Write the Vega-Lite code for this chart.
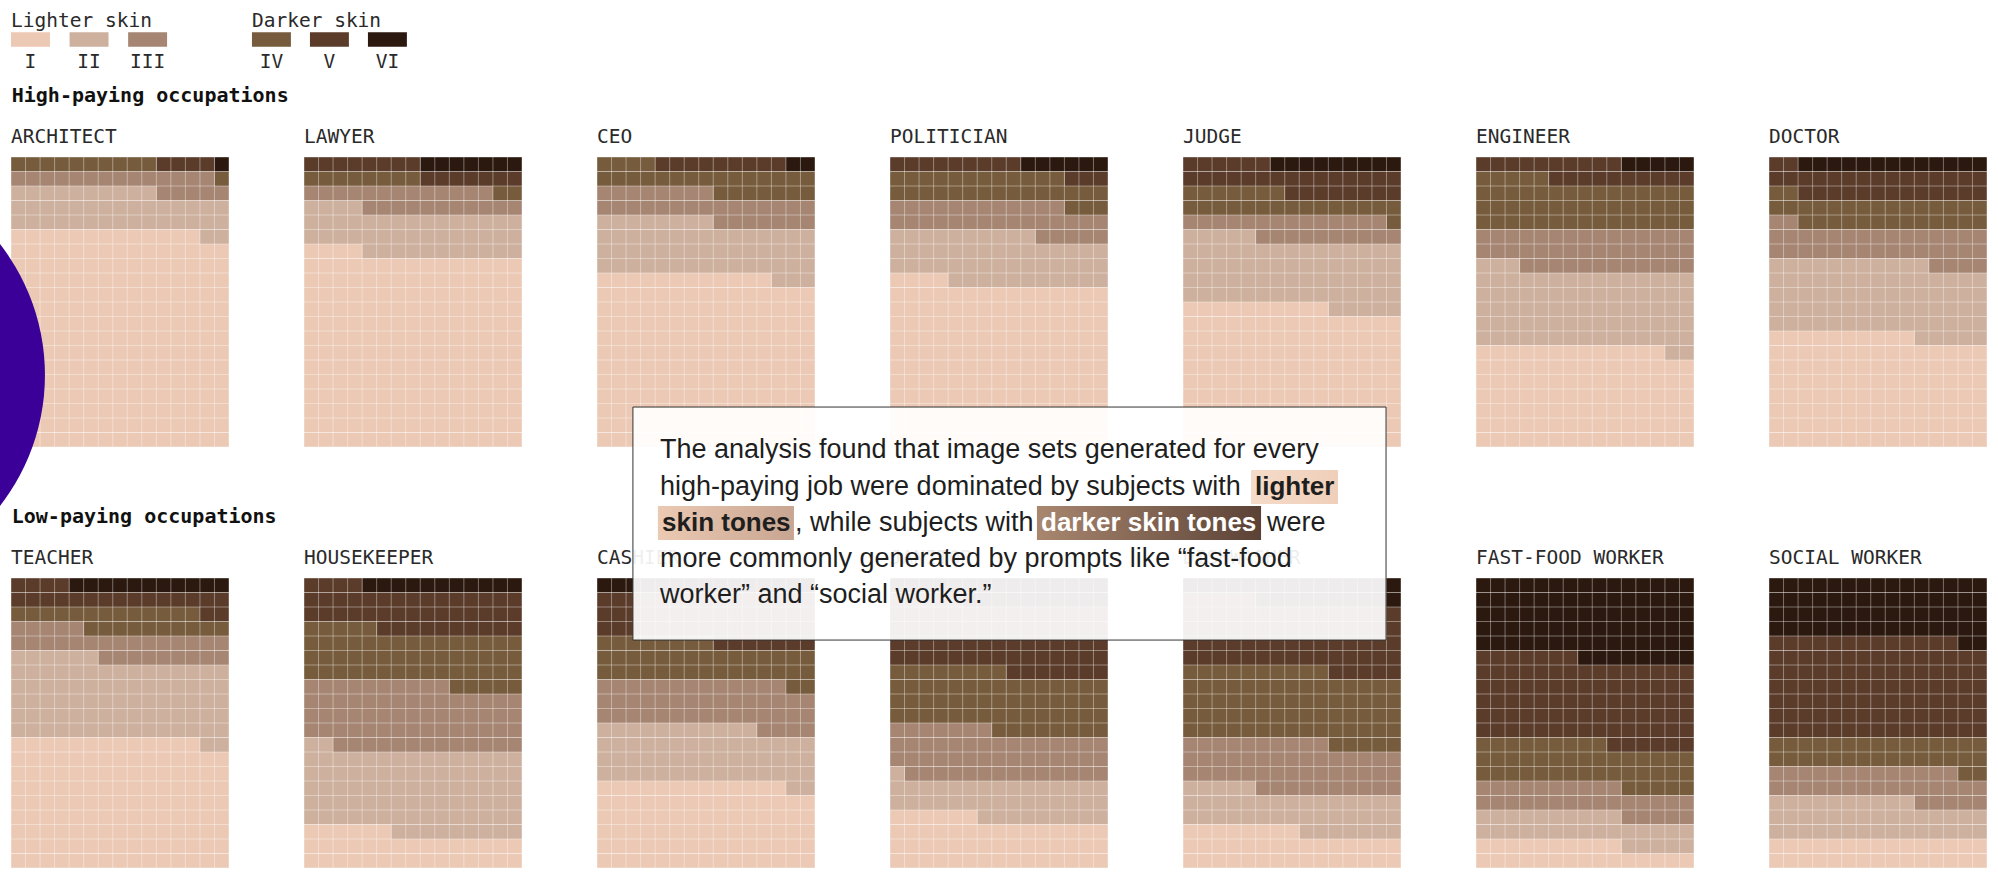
{
  "$schema": "https://vega.github.io/schema/vega-lite/v6.json",
  "autosize": {"type": "none"},
  "padding": {"left": 11, "top": 157, "right": 1987, "bottom": 715},
  "background": "white",
  "data": {"values": [
    {"occupation": "ARCHITECT", "type": "I", "count": 223},
    {"occupation": "ARCHITECT", "type": "II", "count": 42},
    {"occupation": "ARCHITECT", "type": "III", "count": 19},
    {"occupation": "ARCHITECT", "type": "IV", "count": 11},
    {"occupation": "ARCHITECT", "type": "V", "count": 4},
    {"occupation": "ARCHITECT", "type": "VI", "count": 1},
    {"occupation": "LAWYER", "type": "I", "count": 199},
    {"occupation": "LAWYER", "type": "II", "count": 45},
    {"occupation": "LAWYER", "type": "III", "count": 24},
    {"occupation": "LAWYER", "type": "IV", "count": 10},
    {"occupation": "LAWYER", "type": "V", "count": 15},
    {"occupation": "LAWYER", "type": "VI", "count": 7},
    {"occupation": "CEO", "type": "I", "count": 177},
    {"occupation": "CEO", "type": "II", "count": 56},
    {"occupation": "CEO", "type": "III", "count": 30},
    {"occupation": "CEO", "type": "IV", "count": 26},
    {"occupation": "CEO", "type": "V", "count": 9},
    {"occupation": "CEO", "type": "VI", "count": 2},
    {"occupation": "POLITICIAN", "type": "I", "count": 169},
    {"occupation": "POLITICIAN", "type": "II", "count": 51},
    {"occupation": "POLITICIAN", "type": "III", "count": 32},
    {"occupation": "POLITICIAN", "type": "IV", "count": 30},
    {"occupation": "POLITICIAN", "type": "V", "count": 12},
    {"occupation": "POLITICIAN", "type": "VI", "count": 6},
    {"occupation": "JUDGE", "type": "I", "count": 145},
    {"occupation": "JUDGE", "type": "II", "count": 70},
    {"occupation": "JUDGE", "type": "III", "count": 24},
    {"occupation": "JUDGE", "type": "IV", "count": 23},
    {"occupation": "JUDGE", "type": "V", "count": 29},
    {"occupation": "JUDGE", "type": "VI", "count": 9},
    {"occupation": "ENGINEER", "type": "I", "count": 103},
    {"occupation": "ENGINEER", "type": "II", "count": 80},
    {"occupation": "ENGINEER", "type": "III", "count": 42},
    {"occupation": "ENGINEER", "type": "IV", "count": 50},
    {"occupation": "ENGINEER", "type": "V", "count": 20},
    {"occupation": "ENGINEER", "type": "VI", "count": 5},
    {"occupation": "DOCTOR", "type": "I", "count": 115},
    {"occupation": "DOCTOR", "type": "II", "count": 76},
    {"occupation": "DOCTOR", "type": "III", "count": 36},
    {"occupation": "DOCTOR", "type": "IV", "count": 30},
    {"occupation": "DOCTOR", "type": "V", "count": 30},
    {"occupation": "DOCTOR", "type": "VI", "count": 13},
    {"occupation": "TEACHER", "type": "I", "count": 133},
    {"occupation": "TEACHER", "type": "II", "count": 83},
    {"occupation": "TEACHER", "type": "III", "count": 29},
    {"occupation": "TEACHER", "type": "IV", "count": 23},
    {"occupation": "TEACHER", "type": "V", "count": 21},
    {"occupation": "TEACHER", "type": "VI", "count": 11},
    {"occupation": "HOUSEKEEPER", "type": "I", "count": 36},
    {"occupation": "HOUSEKEEPER", "type": "II", "count": 86},
    {"occupation": "HOUSEKEEPER", "type": "III", "count": 68},
    {"occupation": "HOUSEKEEPER", "type": "IV", "count": 55},
    {"occupation": "HOUSEKEEPER", "type": "V", "count": 44},
    {"occupation": "HOUSEKEEPER", "type": "VI", "count": 11},
    {"occupation": "CASHIER", "type": "I", "count": 88},
    {"occupation": "CASHIER", "type": "II", "count": 58},
    {"occupation": "CASHIER", "type": "III", "count": 47},
    {"occupation": "CASHIER", "type": "IV", "count": 40},
    {"occupation": "CASHIER", "type": "V", "count": 52},
    {"occupation": "CASHIER", "type": "VI", "count": 15},
    {"occupation": "JANITOR", "type": "I", "count": 51},
    {"occupation": "JANITOR", "type": "II", "count": 40},
    {"occupation": "JANITOR", "type": "III", "count": 51},
    {"occupation": "JANITOR", "type": "IV", "count": 61},
    {"occupation": "JANITOR", "type": "V", "count": 72},
    {"occupation": "JANITOR", "type": "VI", "count": 25},
    {"occupation": "DISHWASHER", "type": "I", "count": 38},
    {"occupation": "DISHWASHER", "type": "II", "count": 42},
    {"occupation": "DISHWASHER", "type": "III", "count": 50},
    {"occupation": "DISHWASHER", "type": "IV", "count": 75},
    {"occupation": "DISHWASHER", "type": "V", "count": 70},
    {"occupation": "DISHWASHER", "type": "VI", "count": 25},
    {"occupation": "FAST-FOOD WORKER", "type": "I", "count": 25},
    {"occupation": "FAST-FOOD WORKER", "type": "II", "count": 30},
    {"occupation": "FAST-FOOD WORKER", "type": "III", "count": 30},
    {"occupation": "FAST-FOOD WORKER", "type": "IV", "count": 44},
    {"occupation": "FAST-FOOD WORKER", "type": "V", "count": 88},
    {"occupation": "FAST-FOOD WORKER", "type": "VI", "count": 83},
    {"occupation": "SOCIAL WORKER", "type": "I", "count": 30},
    {"occupation": "SOCIAL WORKER", "type": "II", "count": 40},
    {"occupation": "SOCIAL WORKER", "type": "III", "count": 33},
    {"occupation": "SOCIAL WORKER", "type": "IV", "count": 32},
    {"occupation": "SOCIAL WORKER", "type": "V", "count": 103},
    {"occupation": "SOCIAL WORKER", "type": "VI", "count": 62}
  ]},
  "transform": [
    {"window": [{"op": "sum", "field": "count", "as": "end"}], "groupby": ["occupation"], "sort": [{"field": "type", "order": "ascending"}], "frame": [null, 0]},
    {"calculate": "datum.end - datum.count", "as": "start"},
    {"calculate": "floor(datum.start / 15)", "as": "r0"},
    {"calculate": "datum.start % 15", "as": "c0"},
    {"calculate": "floor((datum.end - 1) / 15)", "as": "r1"},
    {"calculate": "(datum.end - 1) % 15 + 1", "as": "c1"},
    {"calculate": "datum.r1 == datum.r0 ? datum.c1 : 15", "as": "a2"},
    {"calculate": "datum.r0 + 1", "as": "r0n"},
    {"calculate": "datum.r1 + 1", "as": "r1n"},
    {"calculate": "0", "as": "left"},
    {"calculate": "15", "as": "right"},
    {"calculate": "indexof(['I','II','III','IV','V','VI'], datum.type)", "as": "k"},
    {"calculate": "datum.k < 3 ? datum.k * 4.03 : 16.58 + (datum.k - 3) * 3.99", "as": "lx"},
    {"calculate": "datum.lx + 2.68", "as": "lx2"},
    {"calculate": "datum.lx + 1.34", "as": "lxc"}
  ],
  "facet": {
    "field": "occupation",
    "type": "nominal",
    "sort": ["ARCHITECT", "LAWYER", "CEO", "POLITICIAN", "JUDGE", "ENGINEER", "DOCTOR", "TEACHER", "HOUSEKEEPER", "CASHIER", "JANITOR", "DISHWASHER", "FAST-FOOD WORKER", "SOCIAL WORKER"],
    "header": {"title": null, "labels": false, "labelExpr": "''"}
  },
  "columns": 7,
  "spacing": {"column": 75, "row": 131},
  "bounds": "flush",
  "spec": {
    "width": 218,
    "height": 290,
    "layer": [
      {
        "mark": {"type": "rect"},
        "encoding": {
          "x": {"field": "c0", "type": "quantitative", "scale": {"domain": [0, 15], "nice": false, "zero": false}, "axis": null},
          "x2": {"field": "a2"},
          "y": {"field": "r0", "type": "quantitative", "scale": {"domain": [0, 20], "nice": false, "zero": false}, "axis": null},
          "y2": {"field": "r0n"},
          "color": {"field": "type", "type": "nominal", "scale": {"domain": ["I", "II", "III", "IV", "V", "VI"], "range": ["#ecc9b5", "#ceb09e", "#a68672", "#765c3c", "#5b3c2a", "#2b180e"]}, "legend": null}
        }
      },
      {
        "transform": [{"filter": "datum.r1 > datum.r0 + 1"}],
        "mark": {"type": "rect"},
        "encoding": {
          "x": {"field": "left", "type": "quantitative", "axis": null},
          "x2": {"field": "right"},
          "y": {"field": "r0n", "type": "quantitative", "axis": null},
          "y2": {"field": "r1"},
          "color": {"field": "type", "type": "nominal", "legend": null}
        }
      },
      {
        "transform": [{"filter": "datum.r1 > datum.r0"}],
        "mark": {"type": "rect"},
        "encoding": {
          "x": {"field": "left", "type": "quantitative", "axis": null},
          "x2": {"field": "c1"},
          "y": {"field": "r1", "type": "quantitative", "axis": null},
          "y2": {"field": "r1n"},
          "color": {"field": "type", "type": "nominal", "legend": null}
        }
      },
      {
        "transform": [{"filter": "datum.type == 'I'"}, {"calculate": "7.5", "as": "gx"}, {"calculate": "10", "as": "gy"}],
        "mark": {
          "type": "point",
          "filled": false,
          "size": 84100,
          "stroke": "#ffffff",
          "strokeOpacity": 0.38,
          "strokeWidth": 1,
          "opacity": 1,
          "shape": "M-0.7517,-1V1M-0.6515,-1V1M-0.5513,-1V1M-0.451,-1V1M-0.3508,-1V1M-0.2506,-1V1M-0.1503,-1V1M-0.0501,-1V1M0.0501,-1V1M0.1503,-1V1M0.2506,-1V1M0.3508,-1V1M0.451,-1V1M0.5513,-1V1M0.6515,-1V1M0.7517,-1V1M-0.7517,-1H0.7517M-0.7517,-0.9H0.7517M-0.7517,-0.8H0.7517M-0.7517,-0.7H0.7517M-0.7517,-0.6H0.7517M-0.7517,-0.5H0.7517M-0.7517,-0.4H0.7517M-0.7517,-0.3H0.7517M-0.7517,-0.2H0.7517M-0.7517,-0.1H0.7517M-0.7517,0H0.7517M-0.7517,0.1H0.7517M-0.7517,0.2H0.7517M-0.7517,0.3H0.7517M-0.7517,0.4H0.7517M-0.7517,0.5H0.7517M-0.7517,0.6H0.7517M-0.7517,0.7H0.7517M-0.7517,0.8H0.7517M-0.7517,0.9H0.7517M-0.7517,1H0.7517"
        },
        "encoding": {
          "x": {"field": "gx", "type": "quantitative", "axis": null},
          "y": {"field": "gy", "type": "quantitative", "axis": null}
        }
      },
      {
        "transform": [{"filter": "datum.type == 'I'"}, {"calculate": "20.97", "as": "ly"}],
        "mark": {"type": "text", "font": "DejaVu Sans Mono", "fontSize": 19.5, "color": "#2a2a2a", "align": "left", "baseline": "alphabetic"},
        "encoding": {
          "x": {"field": "left", "type": "quantitative", "axis": null},
          "y": {"field": "ly", "type": "quantitative", "axis": null},
          "text": {"field": "occupation"}
        }
      },
      {
        "transform": [{"filter": "datum.occupation == 'ARCHITECT'"}, {"calculate": "28.6", "as": "sy"}, {"calculate": "27.61", "as": "sy2"}],
        "mark": {"type": "rect"},
        "encoding": {
          "x": {"field": "lx", "type": "quantitative", "axis": null},
          "x2": {"field": "lx2"},
          "y": {"field": "sy", "type": "quantitative", "axis": null},
          "y2": {"field": "sy2"},
          "color": {"field": "type", "type": "nominal", "legend": null}
        }
      },
      {
        "transform": [{"filter": "datum.occupation == 'ARCHITECT'"}, {"calculate": "26.14", "as": "ty"}],
        "mark": {"type": "text", "font": "DejaVu Sans Mono", "fontSize": 19.5, "color": "#2a2a2a", "align": "center", "baseline": "alphabetic"},
        "encoding": {
          "x": {"field": "lxc", "type": "quantitative", "axis": null},
          "y": {"field": "ty", "type": "quantitative", "axis": null},
          "text": {"field": "type"}
        }
      },
      {
        "transform": [{"filter": "datum.occupation == 'ARCHITECT' && (datum.type == 'I' || datum.type == 'IV')"}, {"calculate": "datum.type == 'I' ? 'Lighter skin' : 'Darker skin'", "as": "group"}, {"calculate": "29.0", "as": "gy"}],
        "mark": {"type": "text", "font": "DejaVu Sans Mono", "fontSize": 19.5, "color": "#2a2a2a", "align": "left", "baseline": "alphabetic"},
        "encoding": {
          "x": {"field": "lx", "type": "quantitative", "axis": null},
          "y": {"field": "gy", "type": "quantitative", "axis": null},
          "text": {"field": "group"}
        }
      },
      {
        "transform": [{"filter": "(datum.occupation == 'ARCHITECT' || datum.occupation == 'TEACHER') && datum.type == 'I'"}, {"calculate": "datum.occupation == 'ARCHITECT' ? 'High-paying occupations' : 'Low-paying occupations'", "as": "section"}, {"calculate": "0.05", "as": "hx"}, {"calculate": "23.76", "as": "hy"}],
        "mark": {"type": "text", "font": "DejaVu Sans Mono", "fontSize": 20, "fontWeight": "bold", "color": "#111111", "align": "left", "baseline": "alphabetic"},
        "encoding": {
          "x": {"field": "hx", "type": "quantitative", "axis": null},
          "y": {"field": "hy", "type": "quantitative", "axis": null},
          "text": {"field": "section"}
        }
      },
      {
        "transform": [{"filter": "datum.occupation == 'TEACHER' && datum.type == 'I'"}, {"calculate": "-12.32", "as": "cx"}, {"calculate": "34.0", "as": "cy"}],
        "mark": {"type": "point", "shape": "circle", "filled": true, "size": 181476, "color": "#3a0098", "opacity": 1},
        "encoding": {
          "x": {"field": "cx", "type": "quantitative", "axis": null},
          "y": {"field": "cy", "type": "quantitative", "axis": null}
        }
      },
      {
        "transform": [{"filter": "datum.occupation == 'FAST-FOOD WORKER' && datum.type == 'I'"}, {"calculate": "-58.01", "as": "bx"}, {"calculate": "-6.19", "as": "bx2"}, {"calculate": "31.79", "as": "by"}, {"calculate": "15.72", "as": "by2"}],
        "mark": {"type": "rect", "fill": "#ffffff", "fillOpacity": 0.92, "stroke": "#333333", "strokeWidth": 1},
        "encoding": {
          "x": {"field": "bx", "type": "quantitative", "axis": null},
          "x2": {"field": "bx2"},
          "y": {"field": "by", "type": "quantitative", "axis": null},
          "y2": {"field": "by2"}
        }
      },
      {
        "transform": [{"filter": "datum.occupation == 'FAST-FOOD WORKER' && datum.type == 'I'"}, {"calculate": "-15.48", "as": "bx"}, {"calculate": "-9.5", "as": "bx2"}, {"calculate": "27.45", "as": "by"}, {"calculate": "25.1", "as": "by2"}],
        "mark": {"type": "rect", "fill": {"gradient": "linear", "x1": 0, "y1": 0, "x2": 1, "y2": 0, "stops": [{"offset": 0, "color": "#f5dbc9"}, {"offset": 1, "color": "#efcfb9"}]}},
        "encoding": {
          "x": {"field": "bx", "type": "quantitative", "axis": null},
          "x2": {"field": "bx2"},
          "y": {"field": "by", "type": "quantitative", "axis": null},
          "y2": {"field": "by2"}
        }
      },
      {
        "transform": [{"filter": "datum.occupation == 'FAST-FOOD WORKER' && datum.type == 'I'"}, {"calculate": "-56.29", "as": "bx"}, {"calculate": "-46.93", "as": "bx2"}, {"calculate": "24.97", "as": "by"}, {"calculate": "22.62", "as": "by2"}],
        "mark": {"type": "rect", "fill": {"gradient": "linear", "x1": 0, "y1": 0, "x2": 1, "y2": 0, "stops": [{"offset": 0, "color": "#ecc9b3"}, {"offset": 1, "color": "#c8a590"}]}},
        "encoding": {
          "x": {"field": "bx", "type": "quantitative", "axis": null},
          "x2": {"field": "bx2"},
          "y": {"field": "by", "type": "quantitative", "axis": null},
          "y2": {"field": "by2"}
        }
      },
      {
        "transform": [{"filter": "datum.occupation == 'FAST-FOOD WORKER' && datum.type == 'I'"}, {"calculate": "-30.21", "as": "bx"}, {"calculate": "-14.79", "as": "bx2"}, {"calculate": "24.97", "as": "by"}, {"calculate": "22.62", "as": "by2"}],
        "mark": {"type": "rect", "fill": {"gradient": "linear", "x1": 0, "y1": 0, "x2": 1, "y2": 0, "stops": [{"offset": 0, "color": "#a9876f"}, {"offset": 1, "color": "#5b4236"}]}},
        "encoding": {
          "x": {"field": "bx", "type": "quantitative", "axis": null},
          "x2": {"field": "bx2"},
          "y": {"field": "by", "type": "quantitative", "axis": null},
          "y2": {"field": "by2"}
        }
      },
      {
        "transform": [{"filter": "datum.occupation == 'FAST-FOOD WORKER' && datum.type == 'I'"}, {"calculate": "-56.15", "as": "tx"}, {"calculate": "28.83", "as": "ty"}],
        "mark": {"type": "text", "font": "Liberation Sans", "fontSize": 27, "color": "#1e1e1e", "align": "left", "baseline": "middle", "text": "The analysis found that image sets generated for every"},
        "encoding": {
          "x": {"field": "tx", "type": "quantitative", "axis": null},
          "y": {"field": "ty", "type": "quantitative", "axis": null}
        }
      },
      {
        "transform": [{"filter": "datum.occupation == 'FAST-FOOD WORKER' && datum.type == 'I'"}, {"calculate": "-56.15", "as": "tx"}, {"calculate": "26.28", "as": "ty"}],
        "mark": {"type": "text", "font": "Liberation Sans", "fontSize": 27, "color": "#1e1e1e", "align": "left", "baseline": "middle", "text": "high-paying job were dominated by subjects with"},
        "encoding": {
          "x": {"field": "tx", "type": "quantitative", "axis": null},
          "y": {"field": "ty", "type": "quantitative", "axis": null}
        }
      },
      {
        "transform": [{"filter": "datum.occupation == 'FAST-FOOD WORKER' && datum.type == 'I'"}, {"calculate": "-15.21", "as": "tx"}, {"calculate": "26.28", "as": "ty"}],
        "mark": {"type": "text", "font": "Liberation Sans", "fontSize": 26, "fontWeight": "bold", "color": "#1e1e1e", "align": "left", "baseline": "middle", "text": "lighter"},
        "encoding": {
          "x": {"field": "tx", "type": "quantitative", "axis": null},
          "y": {"field": "ty", "type": "quantitative", "axis": null}
        }
      },
      {
        "transform": [{"filter": "datum.occupation == 'FAST-FOOD WORKER' && datum.type == 'I'"}, {"calculate": "-56.01", "as": "tx"}, {"calculate": "23.79", "as": "ty"}],
        "mark": {"type": "text", "font": "Liberation Sans", "fontSize": 26, "fontWeight": "bold", "color": "#1e1e1e", "align": "left", "baseline": "middle", "text": "skin tones"},
        "encoding": {
          "x": {"field": "tx", "type": "quantitative", "axis": null},
          "y": {"field": "ty", "type": "quantitative", "axis": null}
        }
      },
      {
        "transform": [{"filter": "datum.occupation == 'FAST-FOOD WORKER' && datum.type == 'I'"}, {"calculate": "-46.86", "as": "tx"}, {"calculate": "23.79", "as": "ty"}],
        "mark": {"type": "text", "font": "Liberation Sans", "fontSize": 27, "color": "#1e1e1e", "align": "left", "baseline": "middle", "text": ", while subjects with"},
        "encoding": {
          "x": {"field": "tx", "type": "quantitative", "axis": null},
          "y": {"field": "ty", "type": "quantitative", "axis": null}
        }
      },
      {
        "transform": [{"filter": "datum.occupation == 'FAST-FOOD WORKER' && datum.type == 'I'"}, {"calculate": "-29.93", "as": "tx"}, {"calculate": "23.79", "as": "ty"}],
        "mark": {"type": "text", "font": "Liberation Sans", "fontSize": 26, "fontWeight": "bold", "color": "#ffffff", "align": "left", "baseline": "middle", "text": "darker skin tones"},
        "encoding": {
          "x": {"field": "tx", "type": "quantitative", "axis": null},
          "y": {"field": "ty", "type": "quantitative", "axis": null}
        }
      },
      {
        "transform": [{"filter": "datum.occupation == 'FAST-FOOD WORKER' && datum.type == 'I'"}, {"calculate": "-14.38", "as": "tx"}, {"calculate": "23.79", "as": "ty"}],
        "mark": {"type": "text", "font": "Liberation Sans", "fontSize": 27, "color": "#1e1e1e", "align": "left", "baseline": "middle", "text": "were"},
        "encoding": {
          "x": {"field": "tx", "type": "quantitative", "axis": null},
          "y": {"field": "ty", "type": "quantitative", "axis": null}
        }
      },
      {
        "transform": [{"filter": "datum.occupation == 'FAST-FOOD WORKER' && datum.type == 'I'"}, {"calculate": "-56.15", "as": "tx"}, {"calculate": "21.31", "as": "ty"}],
        "mark": {"type": "text", "font": "Liberation Sans", "fontSize": 27, "color": "#1e1e1e", "align": "left", "baseline": "middle", "text": "more commonly generated by prompts like “fast-food"},
        "encoding": {
          "x": {"field": "tx", "type": "quantitative", "axis": null},
          "y": {"field": "ty", "type": "quantitative", "axis": null}
        }
      },
      {
        "transform": [{"filter": "datum.occupation == 'FAST-FOOD WORKER' && datum.type == 'I'"}, {"calculate": "-56.15", "as": "tx"}, {"calculate": "18.83", "as": "ty"}],
        "mark": {"type": "text", "font": "Liberation Sans", "fontSize": 27, "color": "#1e1e1e", "align": "left", "baseline": "middle", "text": "worker” and “social worker.”"},
        "encoding": {
          "x": {"field": "tx", "type": "quantitative", "axis": null},
          "y": {"field": "ty", "type": "quantitative", "axis": null}
        }
      }
    ]
  },
  "config": {
    "view": {"stroke": null}
  }
}
